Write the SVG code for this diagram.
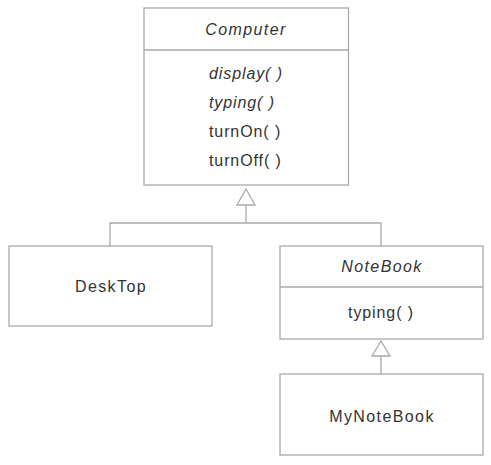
<svg xmlns="http://www.w3.org/2000/svg" width="491" height="465" viewBox="0 0 491 465">
<style>
.box{fill:#fff;stroke:#a9a9a9;stroke-width:1.3}
.ln{fill:none;stroke:#a9a9a9;stroke-width:1.3}
.tri{fill:#fff;stroke:#a9a9a9;stroke-width:1.3}
text{font-family:"Liberation Sans",Arial,sans-serif;font-size:16px;fill:#333;letter-spacing:1.4px}
.m{letter-spacing:0.9px}
.c{text-anchor:middle}
.i{font-style:italic}
</style>
<rect width="491" height="465" fill="#fff"/>
<g id="connectors">
<path class="ln" d="M246 205 V223 M110 246 V223 H381 V246"/>
<polygon class="tri" points="246,189 237,205 255,205"/>
<path class="ln" d="M381 356 V374"/>
<polygon class="tri" points="381,341 372,356 390,356"/>
</g>
<g id="Computer">
<rect class="box" x="144" y="8" width="204.5" height="177"/>
<line class="ln" x1="144" y1="50" x2="348.5" y2="50"/>
<text class="c i" x="246" y="35">Computer</text>
<text class="i m" x="209" y="79">display( )</text>
<text class="i m" x="209" y="108">typing( )</text>
<text class="m" x="209" y="137">turnOn( )</text>
<text class="m" x="209" y="166">turnOff( )</text>
</g>
<g id="DeskTop">
<rect class="box" x="9" y="246" width="203" height="80"/>
<text class="c" x="111" y="292">DeskTop</text>
</g>
<g id="NoteBook">
<rect class="box" x="280" y="246" width="203" height="93"/>
<line class="ln" x1="280" y1="287" x2="483" y2="287"/>
<text class="c i" x="382" y="272">NoteBook</text>
<text class="c m" x="381" y="318">typing( )</text>
</g>
<g id="MyNoteBook">
<rect class="box" x="280" y="374" width="203" height="81"/>
<text class="c" x="382" y="422">MyNoteBook</text>
</g>
</svg>
